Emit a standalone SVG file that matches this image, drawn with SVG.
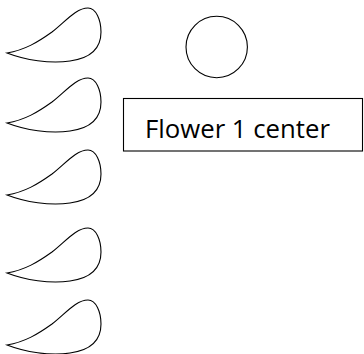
<svg xmlns="http://www.w3.org/2000/svg" width="364" height="354" viewBox="0 0 364 354">
<style>
.petal{fill:#fff;stroke:#000;stroke-width:1.1}
.ln{fill:#fff;stroke:#000;stroke-width:1.1}
.lbl{font-family:"Open Sans","Liberation Sans",sans-serif;font-size:25px;fill:#000}
</style>
<defs>
<path id="petalShape" d="M7,53 C25,50 38,42 52,32 C66,21 76,8 88,8 C96,8 101,20 101,32 C101,48 92,58 70,61 C50,64 25,60 7,53 Z"/>
</defs>
<rect width="364" height="354" fill="#fff"/>
<g id="petal1"><use href="#petalShape" class="petal"/></g>
<g id="petal2"><use href="#petalShape" class="petal" transform="translate(0,70)"/></g>
<g id="petal3"><use href="#petalShape" class="petal" transform="translate(0,142)"/></g>
<g id="petal4"><use href="#petalShape" class="petal" transform="translate(0,220)"/></g>
<g id="petal5"><use href="#petalShape" class="petal" transform="translate(0,292)"/></g>
<g id="center"><circle cx="216.7" cy="47" r="30.7" class="ln"/></g>
<g id="label">
<rect x="123.5" y="98.5" width="239" height="52.5" class="ln"/>
<text x="145" y="137.5" class="lbl" textLength="185" lengthAdjust="spacingAndGlyphs">Flower 1 center</text>
</g>
<g id="connectors"/>
</svg>
